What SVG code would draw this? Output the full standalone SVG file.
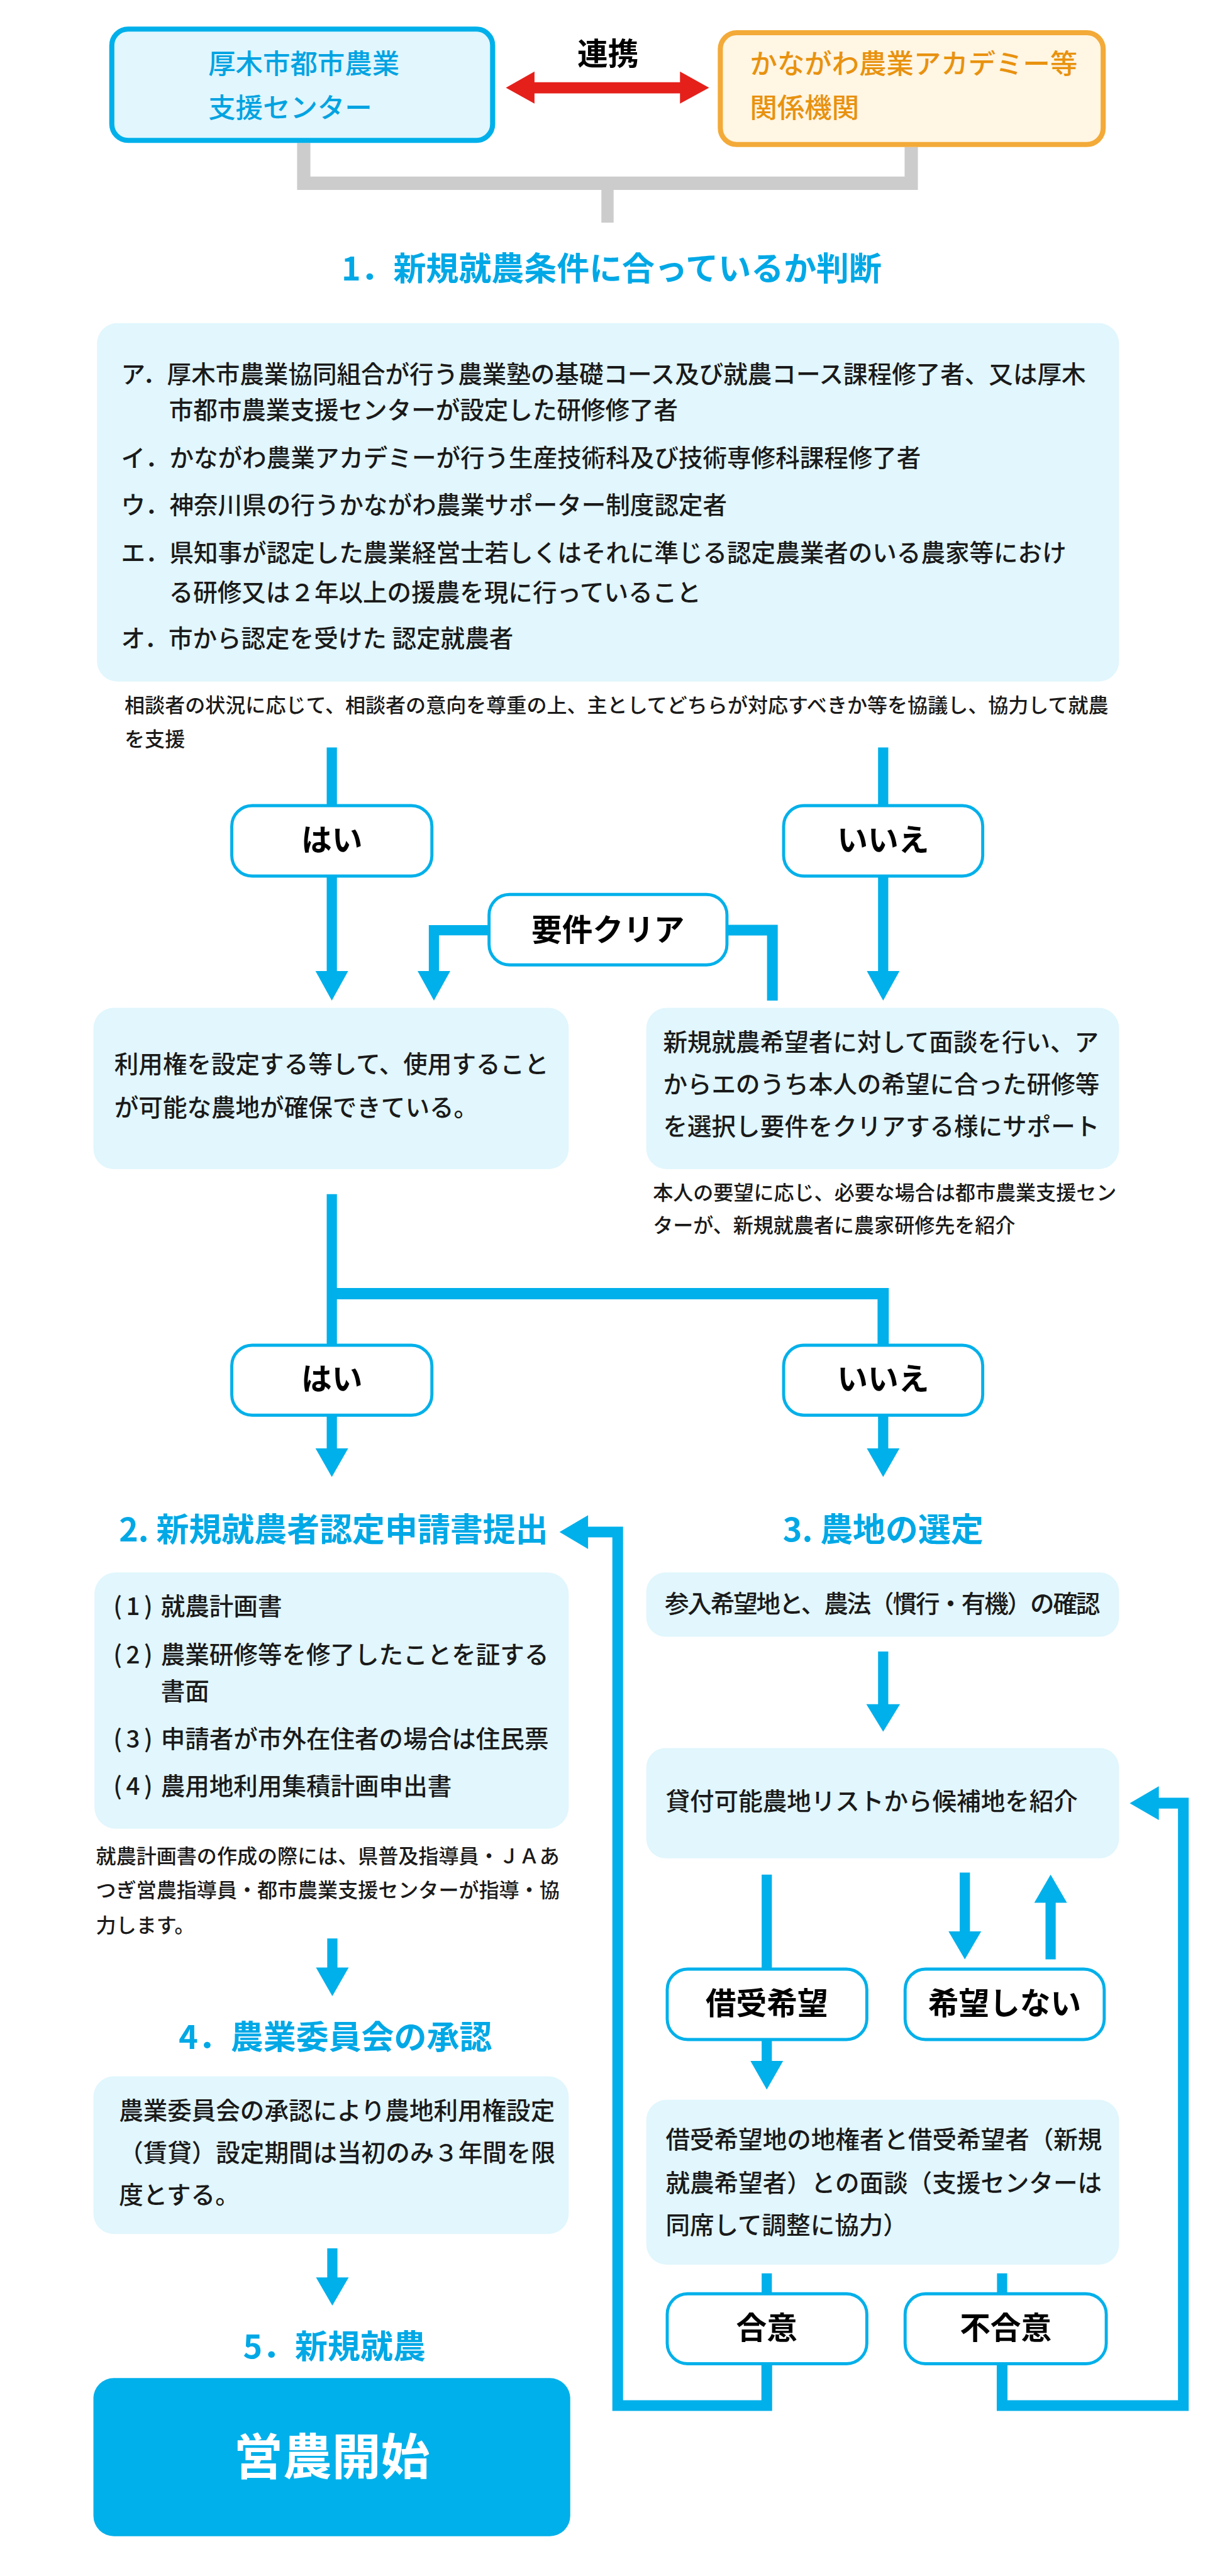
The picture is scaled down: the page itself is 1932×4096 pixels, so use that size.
<svg xmlns="http://www.w3.org/2000/svg" width="1932" height="4096" viewBox="0 0 1932 4096">
<style>
text{font-family:"Noto Sans CJK JP","Noto Sans",sans-serif;}
.b{font-size:47.5px;fill:#1a1a1a;font-weight:500;}
.n{font-size:39.5px;fill:#1a1a1a;font-weight:500;}
.t{font-size:64px;fill:#00a8e6;font-weight:700;}
.l{font-size:60px;fill:#000;font-weight:700;text-anchor:middle;}
.pane{fill:#e1f6fd;}
.dec{fill:#fff;stroke:#00b0ea;stroke-width:6;}
.ln{fill:none;stroke:#00b0ea;stroke-width:20;stroke-linejoin:miter;stroke-linecap:butt;}
.ah{fill:#00b0ea;}
</style>
<rect width="1932" height="4096" fill="#fff"/>
<g transform="scale(0.81176)">
<g id="connectors">
<path d="M595,280 V359 H1785 V288" fill="none" stroke="#cccccc" stroke-width="26"/>
<path d="M1190,359 V436" fill="none" stroke="#cccccc" stroke-width="24"/>
<polygon points="991,172 1047,140 1047,161 1332,161 1332,140 1389,172 1332,203 1332,183 1047,183 1047,203" fill="#e5201b"/>
<path class="ln" d="M650,1464 V1578 M650,1716 V1905"/>
<polygon class="ah" points="618,1902 682,1902 650,1960"/>
<path class="ln" d="M1730,1464 V1578 M1730,1716 V1905"/>
<polygon class="ah" points="1698,1902 1762,1902 1730,1960"/>
<path class="ln" d="M958,1822 H850 V1905"/>
<polygon class="ah" points="818,1902 882,1902 850,1960"/>
<path class="ln" style="stroke-width:21" d="M1424,1822 H1513 V1960"/>
<path class="ln" d="M650,2339 V2635"/>
<path class="ln" style="stroke-width:22" d="M650,2534 H1730 V2635"/>
<path class="ln" d="M650,2772 V2840 M1730,2772 V2840"/>
<polygon class="ah" points="618,2837 682,2837 650,2893"/>
<polygon class="ah" points="1698,2837 1762,2837 1730,2893"/>
<path class="ln" d="M1730,3235 V3340"/>
<polygon class="ah" points="1697,3338 1763,3338 1730,3392"/>
<path class="ln" d="M1502,3672 V3857"/>
<path class="ln" d="M1890,3668 V3786"/>
<polygon class="ah" points="1858,3783 1922,3783 1890,3838"/>
<path class="ln" d="M2058,3724 V3838"/>
<polygon class="ah" points="2058,3672 2026,3727 2090,3727"/>
<path class="ln" d="M1502,3995 V4040"/>
<polygon class="ah" points="1470,4037 1534,4037 1502,4093"/>
<path class="ln" d="M1502,4453 V4493 M1963,4453 V4493"/>
<path class="ln" style="stroke-width:21" d="M1502,4630 V4712 H1210 V3001 H1150"/>
<polygon class="ah" points="1096,3001 1152,2968 1152,3034"/>
<path class="ln" style="stroke-width:21" d="M1963,4630 V4712 H2318 V3532 H2268"/>
<polygon class="ah" points="2213,3532 2270,3499 2270,3565"/>
<path class="ln" d="M651,3797 V3857"/>
<polygon class="ah" points="619,3854 683,3854 651,3910"/>
<path class="ln" d="M651,4404 V4464"/>
<polygon class="ah" points="619,4461 683,4461 651,4516"/>
</g>

<g id="center">
<rect x="219" y="57" width="746" height="218" rx="32" fill="#e1f6fd" stroke="#00b0ea" stroke-width="10"/>
<text x="408" y="144" style="font-size:53.5px;fill:#00a3e2;font-weight:500">厚木市都市農業</text>
<text x="408" y="230" style="font-size:53.5px;fill:#00a3e2;font-weight:500">支援センター</text>
</g>
<g id="academy">
<rect x="1411" y="64" width="750" height="219" rx="32" fill="#fff6e4" stroke="#f3aa38" stroke-width="10"/>
<text x="1469" y="144" style="font-size:53.5px;fill:#e8920f;font-weight:500">かながわ農業アカデミー等</text>
<text x="1469" y="230" style="font-size:53.5px;fill:#e8920f;font-weight:500">関係機関</text>
</g>
<g id="renkei">
<text x="1191" y="127" style="font-size:60px;font-weight:700;fill:#000;text-anchor:middle">連携</text>
</g>

<g id="title1">
<text class="t" x="1198" y="549" text-anchor="middle">1．新規就農条件に合っているか判断</text>
</g>
<g id="conditions">
<rect class="pane" x="190" y="633" width="2002" height="702" rx="40"/>
<text class="b" x="237" y="750">ア．厚木市農業協同組合が行う農業塾の基礎コース及び就農コース課程修了者、又は厚木</text>
<text class="b" x="331" y="820">市都市農業支援センターが設定した研修修了者</text>
<text class="b" x="237" y="914">イ．かながわ農業アカデミーが行う生産技術科及び技術専修科課程修了者</text>
<text class="b" x="237" y="1006">ウ．神奈川県の行うかながわ農業サポーター制度認定者</text>
<text class="b" x="237" y="1100">エ．県知事が認定した農業経営士若しくはそれに準じる認定農業者のいる農家等におけ</text>
<text class="b" x="331" y="1178">る研修又は２年以上の援農を現に行っていること</text>
<text class="b" x="237" y="1268">オ．市から認定を受けた 認定就農者</text>
</g>
<g id="note1">
<text class="n" x="244" y="1396">相談者の状況に応じて、相談者の意向を尊重の上、主としてどちらが対応すべきか等を協議し、協力して就農</text>
<text class="n" x="244" y="1462">を支援</text>
</g>

<g id="yes1">
<rect class="dec" x="454" y="1578" width="392" height="138" rx="40"/>
<text class="l" x="650" y="1667">はい</text>
</g>
<g id="no1">
<rect class="dec" x="1535" y="1578" width="390" height="138" rx="40"/>
<text class="l" x="1730" y="1667">いいえ</text>
</g>
<g id="clear">
<rect class="dec" x="958" y="1752" width="466" height="138" rx="40"/>
<text class="l" x="1191" y="1843">要件クリア</text>
</g>
<g id="land-secured">
<rect class="pane" x="183" y="1974" width="931" height="316" rx="40"/>
<text class="b" x="224" y="2102">利用権を設定する等して、使用すること</text>
<text class="b" x="224" y="2186">が可能な農地が確保できている。</text>
</g>
<g id="interview">
<rect class="pane" x="1266" y="1974" width="926" height="316" rx="40"/>
<text class="b" x="1299" y="2058">新規就農希望者に対して面談を行い、ア</text>
<text class="b" x="1299" y="2141">からエのうち本人の希望に合った研修等</text>
<text class="b" x="1299" y="2224">を選択し要件をクリアする様にサポート</text>
</g>
<g id="note2">
<text class="n" x="1279" y="2350">本人の要望に応じ、必要な場合は都市農業支援セン</text>
<text class="n" x="1279" y="2415">ターが、新規就農者に農家研修先を紹介</text>
</g>
<g id="yes2">
<rect class="dec" x="454" y="2635" width="392" height="137" rx="40"/>
<text class="l" x="650" y="2723">はい</text>
</g>
<g id="no2">
<rect class="dec" x="1535" y="2635" width="390" height="137" rx="40"/>
<text class="l" x="1730" y="2723">いいえ</text>
</g>

<g id="title2">
<text class="t" x="233" y="3019">2. 新規就農者認定申請書提出</text>
</g>
<g id="title3">
<text class="t" x="1730" y="3019" text-anchor="middle">3. 農地の選定</text>
</g>
<g id="documents">
<rect class="pane" x="185" y="3080" width="929" height="502" rx="42"/>
<text class="b" x="222" y="3163" letter-spacing="8">(1)</text><text class="b" x="315" y="3163">就農計画書</text>
<text class="b" x="222" y="3258" letter-spacing="8">(2)</text><text class="b" x="315" y="3258">農業研修等を修了したことを証する</text>
<text class="b" x="315" y="3330">書面</text>
<text class="b" x="222" y="3424" letter-spacing="8">(3)</text><text class="b" x="315" y="3424">申請者が市外在住者の場合は住民票</text>
<text class="b" x="222" y="3516" letter-spacing="8">(4)</text><text class="b" x="315" y="3516">農用地利用集積計画申出書</text>
</g>
<g id="note3">
<text class="n" x="188" y="3650">就農計画書の作成の際には、県普及指導員・ＪＡあ</text>
<text class="n" x="188" y="3717">つぎ営農指導員・都市農業支援センターが指導・協</text>
<text class="n" x="188" y="3785">力します。</text>
</g>
<g id="confirm">
<rect class="pane" x="1266" y="3080" width="926" height="126" rx="38"/>
<text class="b" x="1302" y="3158" textLength="853" lengthAdjust="spacing">参入希望地と、農法（慣行・有機）の確認</text>
</g>
<g id="candidates">
<rect class="pane" x="1266" y="3424" width="926" height="216" rx="38"/>
<text class="b" x="1304" y="3545">貸付可能農地リストから候補地を紹介</text>
</g>
<g id="want">
<rect class="dec" x="1307" y="3857" width="391" height="138" rx="40"/>
<text class="l" x="1502" y="3946">借受希望</text>
</g>
<g id="notwant">
<rect class="dec" x="1773" y="3857" width="390" height="138" rx="40"/>
<text class="l" x="1968" y="3946">希望しない</text>
</g>
<g id="meeting">
<rect class="pane" x="1266" y="4113" width="926" height="323" rx="40"/>
<text class="b" x="1304" y="4208">借受希望地の地権者と借受希望者（新規</text>
<text class="b" x="1304" y="4293">就農希望者）との面談（支援センターは</text>
<text class="b" x="1304" y="4376">同席して調整に協力）</text>
</g>
<g id="agree">
<rect class="dec" x="1307" y="4493" width="391" height="137" rx="40"/>
<text class="l" x="1502" y="4581">合意</text>
</g>
<g id="disagree">
<rect class="dec" x="1773" y="4493" width="394" height="137" rx="40"/>
<text class="l" x="1970" y="4581">不合意</text>
</g>

<g id="title4">
<text class="t" x="657" y="4013" text-anchor="middle">4．農業委員会の承認</text>
</g>
<g id="committee">
<rect class="pane" x="183" y="4067" width="931" height="309" rx="40"/>
<text class="b" x="233" y="4151">農業委員会の承認により農地利用権設定</text>
<text class="b" x="233" y="4234">（賃貸）設定期間は当初のみ３年間を限</text>
<text class="b" x="233" y="4317">度とする。</text>
</g>
<g id="title5">
<text class="t" x="655" y="4620" text-anchor="middle">5．新規就農</text>
</g>
<g id="start">
<rect x="183" y="4658" width="934" height="310" rx="40" fill="#00b0ea"/>
<text x="650" y="4847" style="font-size:96px;font-weight:700;fill:#fff;text-anchor:middle">営農開始</text>
</g>
</g>
</svg>
